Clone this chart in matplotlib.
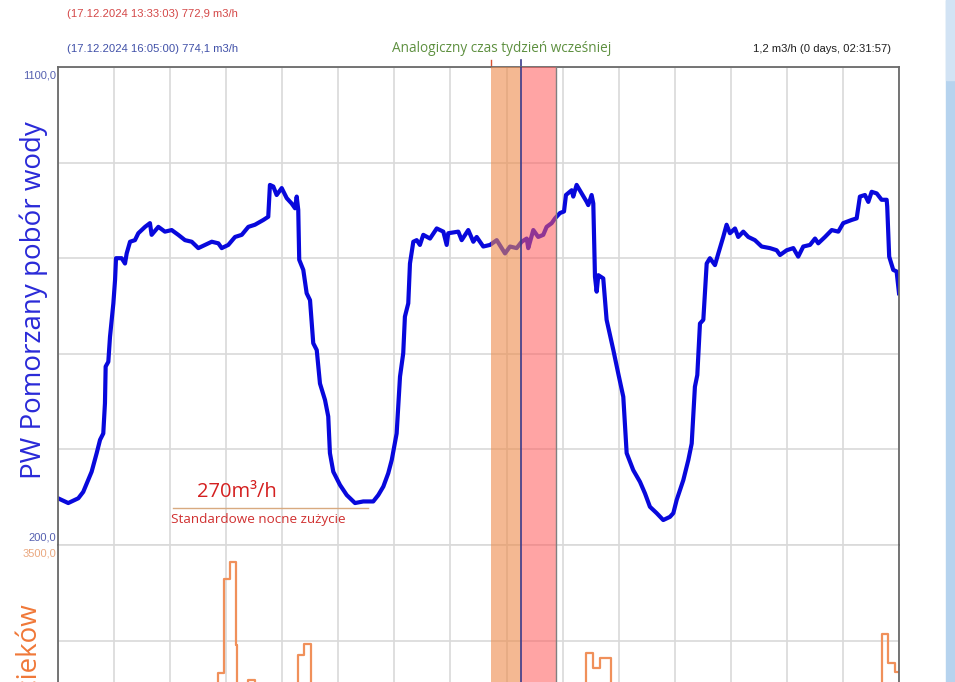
import matplotlib
matplotlib.use("Agg")
import matplotlib.pyplot as plt
from matplotlib.patches import Rectangle

# przeplyw wody - godziny od poczatku okna i wartosci m3/h
hours = [0.0, 0.73, 1.45, 1.80, 2.05, 2.40, 2.76, 3.00, 3.23, 3.35,
         3.40, 3.59, 3.71, 3.95, 4.07, 4.14, 4.54, 4.78, 4.90, 5.14,
         5.49, 5.73, 6.21, 6.56, 6.68, 7.16, 7.63, 8.11, 8.58, 9.06,
         9.54, 10.01, 10.49, 10.97, 11.44, 11.68, 12.15, 12.63, 13.11, 13.58,
         14.05, 14.65, 15.00, 15.12, 15.36, 15.60, 15.96, 16.32, 16.67, 16.91,
         17.03, 17.14, 17.21, 17.50, 17.74, 17.98, 18.21, 18.46, 18.69, 19.05,
         19.28, 19.40, 19.64, 20.12, 20.60, 21.19, 21.78, 22.49, 22.85, 23.21,
         23.56, 23.81, 24.16, 24.40, 24.63, 24.75, 24.99, 25.11, 25.35, 25.59,
         25.82, 26.06, 26.54, 27.02, 27.49, 27.73, 27.84, 28.56, 28.80, 29.27,
         29.63, 29.87, 30.34, 30.82, 31.30, 31.65, 31.89, 32.25, 32.72, 33.08,
         33.44, 33.55, 33.91, 34.26, 34.62, 34.86, 35.22, 35.46, 35.81, 36.10,
         36.24, 36.65, 36.76, 37.00, 37.36, 37.72, 37.83, 38.07, 38.19, 38.31,
         38.43, 38.55, 38.90, 39.14, 39.62, 39.97, 40.33, 40.57, 41.04, 41.52,
         41.88, 42.23, 42.71, 43.18, 43.66, 43.90, 44.14, 44.61, 44.97, 45.21,
         45.44, 45.61, 45.80, 46.04, 46.28, 46.51, 46.87, 47.11, 47.46, 47.70,
         47.94, 48.30, 48.53, 48.89, 49.25, 49.72, 50.20, 50.79, 51.27, 51.51,
         51.99, 52.46, 52.81, 53.17, 53.65, 54.01, 54.24, 54.72, 55.20, 55.67,
         56.02, 56.62, 56.98, 57.21, 57.57, 57.81, 58.05, 58.41, 58.76, 59.12,
         59.16, 59.30, 59.59, 59.83, 60.0]
flow = [288, 279, 288, 300, 316, 338, 373, 398, 410, 467,
        536, 545, 592, 655, 699, 740, 740, 730, 749, 771,
        774, 787, 799, 806, 784, 799, 790, 793, 784, 774,
        771, 759, 765, 771, 768, 759, 765, 780, 784, 799,
        803, 812, 818, 878, 875, 859, 872, 853, 843, 834,
        856, 831, 737, 718, 674, 661, 580, 567, 504, 473,
        442, 373, 338, 313, 294, 279, 282, 282, 294, 310,
        335, 360, 410, 517, 561, 630, 655, 730, 771, 774,
        765, 784, 777, 796, 790, 765, 787, 790, 774, 793,
        771, 780, 762, 765, 774, 759, 749, 762, 759, 771,
        777, 759, 793, 780, 784, 799, 806, 815, 825, 828,
        859, 868, 856, 878, 862, 846, 840, 859, 843, 705,
        677, 708, 702, 624, 567, 523, 479, 373, 341, 319,
        297, 272, 260, 247, 253, 260, 285, 322, 360, 391,
        498, 520, 617, 624, 730, 740, 727, 749, 780, 803,
        787, 796, 780, 790, 780, 774, 762, 759, 755, 746,
        755, 759, 743, 762, 765, 777, 768, 780, 793, 790,
        806, 812, 815, 856, 859, 846, 865, 862, 850, 850,
        837, 743, 718, 715, 674]

# dolny wykres (scieki) - schodki
drain_hours = [0.0, 11.44, 11.84, 12.27, 12.70, 12.79, 13.58, 14.05, 17.10, 17.55,
               18.03, 37.70, 38.17, 38.67, 39.45, 58.78, 59.25, 59.70, 60.0]
drain = [2200, 2565, 3249, 3378, 2768, 2200, 2512, 2200, 2695, 2775,
         2200, 2709, 2599, 2673, 2200, 2848, 2636, 2570, 2570]

# okna porownawcze (godziny)
band_prev = (30.87, 33.03)
band_now = (33.03, 35.53)

W, H = 955, 682


def fx(x):
    return x / W


def fy(y):
    return 1 - y / H


narrow = ['Liberation Sans', 'DejaVu Sans']
ui = ['Open Sans', 'DejaVu Sans']
grid_c = '#d9d9d9'

fig = plt.figure(figsize=(W / 100, H / 100), dpi=100)
fig.patch.set_facecolor('white')

ax1 = fig.add_axes([fx(58), fy(545), fx(899) - fx(58), fy(67) - fy(545)])
ax2 = fig.add_axes([fx(58), fy(1023), fx(899) - fx(58), fy(545) - fy(1023)])

for ax in (ax1, ax2):
    ax.set_xlim(0, 60)
    ax.set_xticks(range(0, 61, 4))
    ax.grid(True, color=grid_c, lw=1.2)
    ax.tick_params(length=0, labelbottom=False, labelleft=False)
    ax.set_axisbelow(True)
    for s in ax.spines.values():
        s.set_color('#6a6a6a')
        s.set_linewidth(1.3)
    ax.axvspan(*band_prev, color='#ee8a4a', alpha=0.6, lw=0, zorder=3)
    ax.axvspan(*band_now, facecolor='#ff5a5a', alpha=0.55, lw=0, zorder=3)
    ax.axvline(band_now[1], color='#808080', lw=1.0, zorder=4)
    ax.axvline(band_now[0], color='#3a3a8a', lw=1.2, zorder=4)

ax1.set_ylim(200, 1100)
ax1.set_yticks(range(200, 1101, 180))
ax1.spines['bottom'].set_visible(False)
ax1.axhline(200, color=grid_c, lw=1.2)
ax1.plot(hours, flow, color='#0808dc', lw=3.0, zorder=2)
ax1.axvline(band_prev[0], ymin=1.0, ymax=1.015, color='#d85030', lw=1, clip_on=False)
ax1.axvline(band_now[0], ymin=1.0, ymax=1.015, color='#3a3a8a', lw=1.2, clip_on=False)

ax2.set_ylim(0, 3500)
ax2.set_yticks(range(0, 3501, 700))
ax2.spines['top'].set_visible(False)
ax2.step(drain_hours, drain, where='post', color='#f0905a', lw=1.6, zorder=2)

# opisy osi
fig.text(fx(56), fy(70), '1100,0', color='#5560b0', fontsize=8, family=narrow, ha='right', va='top')
fig.text(fx(56), fy(542), '200,0', color='#5560b0', fontsize=8, family=narrow, ha='right', va='bottom')
fig.text(fx(56), fy(548), '3500,0', color='#eaa880', fontsize=8, family=narrow, ha='right', va='top')
fig.text(fx(34), fy(300), 'PW Pomorzany pobór wody', color='#2a2ad8', fontsize=20, family=ui,
         rotation=90, ha='center', va='center')
fig.text(fx(30), fy(604), 'Przepływ ścieków', color='#f07838', fontsize=20, family=ui,
         rotation=90, ha='center', va='top')

# naglowki
fig.text(fx(67), fy(14), '(17.12.2024 13:33:03) 772,9 m3/h', color='#d44848', fontsize=8.1,
         family=narrow, ha='left', va='center')
fig.text(fx(67), fy(49), '(17.12.2024 16:05:00) 774,1 m3/h', color='#4050a8', fontsize=8.1,
         family=narrow, ha='left', va='center')
fig.text(fx(502), fy(49), 'Analogiczny czas tydzień wcześniej', color='#5e9040', fontsize=9.8,
         family=ui, ha='center', va='center')
fig.text(fx(891), fy(49), '1,2 m3/h (0 days, 02:31:57)', color='#202020', fontsize=8.1,
         family=narrow, ha='right', va='center')

# adnotacja nocnego zuzycia
fig.text(fx(237), fy(492), '270m³/h', color='#d42020', fontsize=14.5, family=ui, ha='center', va='center')
fig.lines.append(plt.Line2D([fx(173), fx(368)], [fy(508), fy(508)], color='#d8aa80', lw=1,
                            transform=fig.transFigure))
fig.text(fx(258), fy(520), 'Standardowe nocne zużycie', color='#d03030', fontsize=9.7, family=ui,
         ha='center', va='center')

# pasek okna po prawej
fig.patches.append(Rectangle((fx(946), 0), fx(9), 1, color='#b6d3ee', transform=fig.transFigure))
fig.patches.append(Rectangle((fx(946), fy(80)), fx(9), fy(0) - fy(80), color='#d2e3f4',
                             transform=fig.transFigure))

fig.savefig('out.png', dpi=100)
